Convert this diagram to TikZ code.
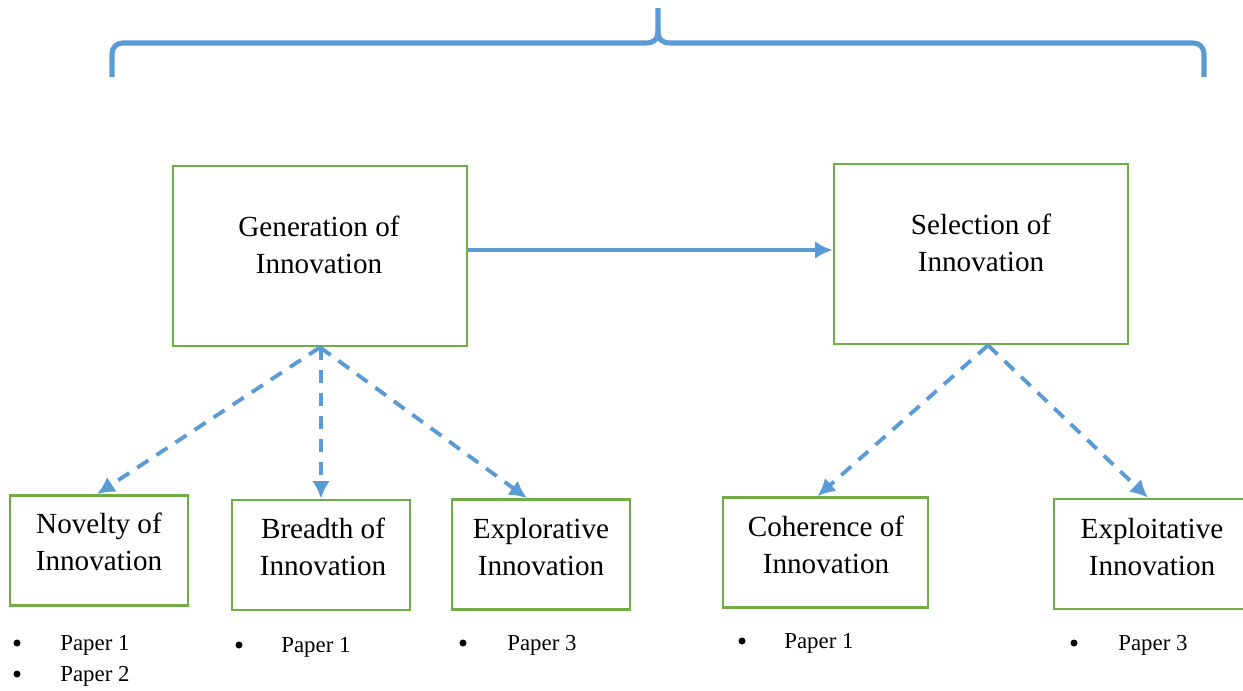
\documentclass[tikz,border=0pt]{standalone}
\usepackage{fontspec}
\setmainfont{Liberation Serif}
\usetikzlibrary{arrows.meta,calc}
\definecolor{bracecol}{HTML}{5B9BD5}
\definecolor{boxcol}{HTML}{70AD47}
\begin{document}
\begin{tikzpicture}[x=0.02cm,y=-0.02cm,
  bigbox/.style={draw=boxcol,line width=1.5pt,minimum width=5.88cm,minimum height=3.6cm,inner sep=0pt},
  smallbox/.style={draw=boxcol,line width=1.5pt,minimum width=3.56cm,minimum height=2.2cm,inner sep=0pt},
  boxtext/.style={align=center,font=\fontsize{16.6}{21}\selectfont,inner sep=0pt},
  papertext/.style={anchor=west,font=\fontsize{13}{15}\selectfont,inner sep=0pt},
  bulletmark/.style={circle,fill=black,inner sep=0pt,minimum size=0.14cm},
  flow/.style={draw=bracecol,line width=2.2pt,-{Latex[length=10pt,width=10pt]}},
  branch/.style={flow,dash pattern=on 7.5pt off 5.5pt},
  brace/.style={draw=bracecol,line width=2.9pt}]
\useasboundingbox (0,0) rectangle (1243,690);

% top brace
\draw[brace,rounded corners=6] (112,77) -- (112,43) -- (645,43);
\draw[brace] (645,43) .. controls (654,43) and (658,40) .. (658,30) -- (658,8);
\draw[brace,rounded corners=6] (1204,77) -- (1204,43) -- (671,43);
\draw[brace] (671,43) .. controls (662,43) and (658,40) .. (658,30);

% upper boxes
\node[bigbox] (gen) at (320,256) {};
\node[boxtext] (gent) at (319,245) {Generation of\\Innovation};
\node[bigbox] (sel) at (981,254) {};
\node[boxtext] (selt) at (981,243) {Selection of\\Innovation};

% lower boxes
\node[smallbox] (nov) at (99,550.5) {};
\node[boxtext] (novt) at (99,542) {Novelty of\\Innovation};
\node[smallbox] (bre) at (321,555) {};
\node[boxtext] (bret) at (323,547) {Breadth of\\Innovation};
\node[smallbox] (exr) at (541,554.5) {};
\node[boxtext] (exrt) at (541,547) {Explorative\\Innovation};
\node[smallbox,minimum width=4.1cm] (coh) at (825.5,552.5) {};
\node[boxtext] (coht) at (826,545) {Coherence of\\Innovation};
\node[smallbox,minimum width=3.8cm] (exi) at (1149,554) {};
\node[boxtext] (exit) at (1152,547) {Exploitative\\Innovation};

% connectors
\draw[flow] (gen.east |- 0,250) -- (sel.west |- 0,250);
\draw[branch] (gen.south) -- ($(nov.north)+(-2,0)$);
\draw[branch] (bre.north |- gen.south) -- (bre.north);
\draw[branch] (gen.south) -- ($(exr.north)+(-14,0)$);
\draw[branch] ($(sel.south)+(7,0)$) -- ($(coh.north)+(-8,0)$);
\draw[branch] ($(sel.south)+(7,0)$) -- ($(exi.north)+(-1,0)$);

% paper lists
\node[bulletmark] (b1) at (17,643) {};
\node[papertext] (p1) at (60,645) {Paper 1};
\node[bulletmark] (b2) at (17,674) {};
\node[papertext] (p2) at (60,676) {Paper 2};
\node[bulletmark] (b3) at (239,645) {};
\node[papertext] (p3) at (281,647) {Paper 1};
\node[bulletmark] (b4) at (463,643) {};
\node[papertext] (p4) at (507,645) {Paper 3};
\node[bulletmark] (b5) at (742,641) {};
\node[papertext] (p5) at (784,643) {Paper 1};
\node[bulletmark] (b6) at (1074,643) {};
\node[papertext] (p6) at (1118,645) {Paper 3};
\end{tikzpicture}
\end{document}
